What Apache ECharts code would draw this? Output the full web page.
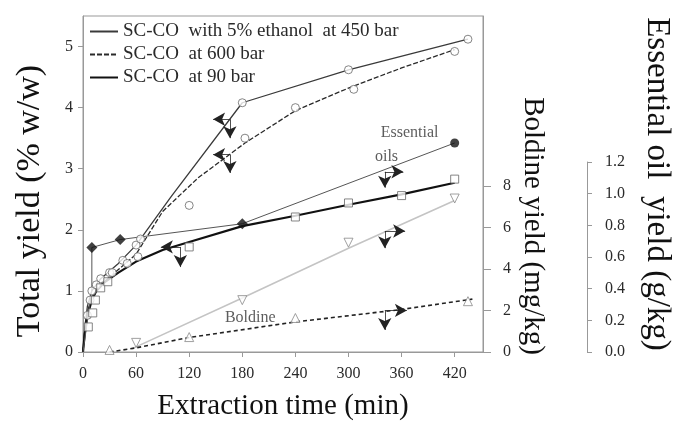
<!DOCTYPE html>
<html>
<head>
<meta charset="utf-8">
<script src="https://cdn.jsdelivr.net/npm/echarts@6/dist/echarts.min.js"></script>
<style>html,body{margin:0;padding:0;background:#fff}#c{width:675px;height:423px}</style>
</head>
<body>
<div id="c"></div>
<script>
// ---- tick labels ----
const timeTicks = [0, 60, 120, 180, 240, 300, 360, 420];
const totalTicks = [0, 1, 2, 3, 4, 5];
const boldineTicks = [0, 2, 4, 6, 8];

// ---- legend names ----
const nameEthanol = 'SC-CO  with 5% ethanol  at 450 bar';
const name600 = 'SC-CO  at 600 bar';
const name90 = 'SC-CO  at 90 bar';

// ---- total yield (% w/w): fitted curves [time, yield] ----
const ethanolCurve = [[0,0],[2,0.4],[5,0.75],[10,1.0],[20,1.2],[40,1.45],[60,1.75],[100,2.55],[180,4.08],[300,4.62],[435,5.12]];
const bar600Curve = [[0,0],[2,0.35],[5,0.65],[10,0.9],[20,1.1],[40,1.35],[60,1.6],[90,2.3],[130,2.85],[183,3.42],[240,3.95],[300,4.32],[360,4.65],[420,4.95]];
const bar90Curve = [[0,0],[2,0.3],[5,0.6],[10,0.85],[15,1.0],[25,1.15],[40,1.3],[60,1.48],[90,1.67],[120,1.8],[180,2.06],[240,2.23],[300,2.41],[360,2.58],[420,2.77]];

// ---- total yield experimental points ----
const ethanolPts = [[5,0.6],[10,1.0],[20,1.2],[30,1.3],[45,1.5],[60,1.75],[65,1.85],[180,4.08],[300,4.62],[435,5.12]];
const bar600Pts = [[8,0.85],[15,1.1],[33,1.3],[50,1.45],[62,1.56],[120,2.4],[183,3.5],[240,4.0],[306,4.3],[420,4.92]];
const bar90Pts = [[6,0.41],[11,0.64],[14,0.85],[20,1.05],[28,1.15],[120,1.72],[240,2.21],[300,2.44],[360,2.56],[420,2.83]];

// ---- essential oil yield (g/kg) ----
const oilCurve = [[0,0],[10,0.4],[10,0.66],[42,0.71],[180,0.81],[420,1.32]];
const oilPts = [[10,0.66],[42,0.71],[180,0.81]];
const oilEndPts = [[420,1.32]];

// ---- boldine yield (mg/kg) ----
const boldineLightCurve = [[55,0.15],[180,2.6],[300,5.0],[420,7.3]];
const boldineLightPts = [[60,0.44],[180,2.5],[300,5.27],[420,7.4]];
const boldineDashCurve = [[30,0],[60,0.2],[120,0.7],[240,1.45],[360,2.05],[440,2.55]];
const boldineDashPts = [[30,0.1],[120,0.72],[240,1.64],[435,2.45]];

// ---- annotations (in time / total-yield units) ----
const pointerLines = [
  [[166,3.81],[147,3.81]], [[166,3.81],[166,3.50]],
  [[166,3.23],[147,3.23]], [[166,3.23],[166,2.93]],
  [[110,1.72],[88,1.72]],  [[110,1.72],[110,1.39]],
  [[341,2.95],[362,2.95]], [[341,2.95],[341,2.69]],
  [[341,1.98],[364,1.98]], [[341,1.98],[341,1.70]],
  [[341,0.68],[366,0.68]], [[341,0.68],[341,0.36]]
];
const textNotes = [
  {name:'Essential', value:[369,3.58]},
  {name:'oils', value:[343,3.2]},
  {name:'Boldine', value:[189,0.56]}
];

const FONT = 'Liberation Serif';
const AX = '#999';
const TXT = '#2a2a2a';

const chart = echarts.init(document.getElementById('c'), null, {renderer:'canvas'});

const hiddenX = (g) => ({type:'value', gridIndex:g, min:0, max:1, show:false});

const option = {
  animation: false,
  textStyle: {fontFamily: FONT},
  legend: {
    orient: 'vertical', left: 84, top: 17, itemGap: 4,
    itemWidth: 28, itemHeight: 14,
    data: [nameEthanol, name600, name90],
    itemStyle: {color: 'rgba(0,0,0,0)', borderWidth: 0, opacity: 0},
    textStyle: {fontFamily: FONT, fontSize: 19, color: TXT}
  },
  grid: [
    {left: 83, right: 192, top: 16, bottom: 71, show: true, borderColor: AX, borderWidth: 1, outerBoundsMode: 'none', containLabel: false},
    {left: 587, width: 1, top: 162, bottom: 71, outerBoundsMode: 'none', containLabel: false},
    {left: 83, right: 192, top: 100, bottom: 71, outerBoundsMode: 'none', containLabel: false},
    {left: 83, right: 192, top: 50, bottom: 71, outerBoundsMode: 'none', containLabel: false}
  ],
  xAxis: [
    {type:'value', gridIndex:0, min:0, max:452,
     name:'Extraction time (min)', nameLocation:'middle', nameGap:40,
     nameTextStyle:{fontFamily:FONT, fontSize:29, color:'#111'},
     axisLine:{lineStyle:{color:AX}},
     axisTick:{length:5, lineStyle:{color:AX}, customValues: timeTicks},
     axisLabel:{fontFamily:FONT, fontSize:16, color:TXT, margin:14, customValues: timeTicks},
     splitLine:{show:false}},
    hiddenX(1), hiddenX(2), hiddenX(3)
  ],
  yAxis: [
    {type:'value', gridIndex:0, min:0, max:5.5, position:'left',
     axisLine:{show:true, lineStyle:{color:AX}},
     axisTick:{show:true, length:5, lineStyle:{color:AX}, customValues: totalTicks},
     axisLabel:{fontFamily:FONT, fontSize:16, color:TXT, margin:10, customValues: totalTicks},
     splitLine:{show:false}},
    {type:'value', gridIndex:0, min:0, max:16.2, position:'right',
     axisLine:{show:true, lineStyle:{color:AX}},
     axisTick:{show:true, length:8, lineStyle:{color:AX}, customValues: boldineTicks},
     axisLabel:{fontFamily:FONT, fontSize:16, color:TXT, margin:20, customValues: boldineTicks},
     splitLine:{show:false}},
    {type:'value', gridIndex:0, min:0, max:2.122, position:'right', offset:105,
     name:'Essential oil  yield (g/kg)', nameLocation:'middle', nameRotate:-90, nameGap:52,
     nameTextStyle:{fontFamily:FONT, fontSize:33, color:'#111'},
     axisLine:{show:false}, axisTick:{show:false}, axisLabel:{show:false}, splitLine:{show:false}},
    {type:'value', gridIndex:1, min:0, max:1.2, interval:0.2, position:'right',
     axisLine:{show:true, lineStyle:{color:AX}},
     axisTick:{show:true, length:5, lineStyle:{color:AX}},
     axisLabel:{fontFamily:FONT, fontSize:16, color:TXT, margin:17, formatter:(v)=>v.toFixed(1)},
     splitLine:{show:false}},
    {type:'value', gridIndex:2, min:0, max:1, position:'right',
     name:'Boldine yield (mg/kg)', nameLocation:'middle', nameRotate:-90, nameGap:35,
     nameTextStyle:{fontFamily:FONT, fontSize:29, color:'#111'},
     axisLine:{show:false}, axisTick:{show:false}, axisLabel:{show:false}, splitLine:{show:false}},
    {type:'value', gridIndex:3, min:0, max:1, position:'left',
     name:'Total yield (% w/w)', nameLocation:'middle', nameRotate:90, nameGap:36,
     nameTextStyle:{fontFamily:FONT, fontSize:34, color:'#111'},
     axisLine:{show:false}, axisTick:{show:false}, axisLabel:{show:false}, splitLine:{show:false}}
  ],
  series: [
    {name:nameEthanol, type:'line', xAxisIndex:0, yAxisIndex:0, data:ethanolCurve, symbol:'none',
     itemStyle:{color:'#3a3a3a'}, lineStyle:{color:'#3a3a3a', width:1.3}, z:3},
    {name:name600, type:'line', xAxisIndex:0, yAxisIndex:0, data:bar600Curve, symbol:'none',
     itemStyle:{color:'#2a2a2a'}, lineStyle:{color:'#2a2a2a', width:1.3, type:[5,2]}, z:3},
    {name:name90, type:'line', xAxisIndex:0, yAxisIndex:0, data:bar90Curve, symbol:'none',
     itemStyle:{color:'#111'}, lineStyle:{color:'#111', width:2.2}, z:3},
    {name:'oil', type:'line', xAxisIndex:0, yAxisIndex:2, data:oilCurve, symbol:'none',
     lineStyle:{color:'#555', width:1}, z:3},
    {name:'boldineLight', type:'line', xAxisIndex:0, yAxisIndex:1, data:boldineLightCurve, symbol:'none',
     lineStyle:{color:'#c4c4c4', width:1.6}, z:2},
    {name:'boldineDash', type:'line', xAxisIndex:0, yAxisIndex:1, data:boldineDashCurve, symbol:'none',
     lineStyle:{color:'#222', width:1.6, type:[4,3]}, z:3},

    {name:'ethanolPts', type:'scatter', xAxisIndex:0, yAxisIndex:0, data:ethanolPts, symbol:'circle', symbolSize:8,
     itemStyle:{color:'#fff', borderColor:'#666', borderWidth:1}, z:4},
    {name:'bar600Pts', type:'scatter', xAxisIndex:0, yAxisIndex:0, data:bar600Pts, symbol:'circle', symbolSize:8,
     itemStyle:{color:'#fff', borderColor:'#666', borderWidth:1}, z:4},
    {name:'bar90Pts', type:'scatter', xAxisIndex:0, yAxisIndex:0, data:bar90Pts, symbol:'rect', symbolSize:8,
     itemStyle:{color:'#fff', borderColor:'#666', borderWidth:1}, z:4},
    {name:'oilPts', type:'scatter', xAxisIndex:0, yAxisIndex:2, data:oilPts, symbol:'diamond', symbolSize:11,
     itemStyle:{color:'#111'}, z:5},
    {name:'oilEndPts', type:'scatter', xAxisIndex:0, yAxisIndex:2, data:oilEndPts, symbol:'circle', symbolSize:9,
     itemStyle:{color:'#111'}, z:5},
    {name:'boldineLightPts', type:'scatter', xAxisIndex:0, yAxisIndex:1, data:boldineLightPts, symbol:'triangle', symbolRotate:180, symbolSize:9,
     itemStyle:{color:'#fff', borderColor:'#888', borderWidth:1}, z:4},
    {name:'boldineDashPts', type:'scatter', xAxisIndex:0, yAxisIndex:1, data:boldineDashPts, symbol:'triangle', symbolSize:9,
     itemStyle:{color:'#fff', borderColor:'#888', borderWidth:1}, z:4},

    {name:'pointers', type:'line', xAxisIndex:0, yAxisIndex:0, data:[], z:6,
     markLine:{silent:true, animation:false, symbol:['none','arrow'], symbolSize:[10,12],
       label:{show:false}, lineStyle:{color:'#222', width:0.8, type:'solid'},
       data: pointerLines.map(p => [{coord:p[0]},{coord:p[1]}])}},
    {name:'notes', type:'scatter', xAxisIndex:0, yAxisIndex:0, data:textNotes, symbolSize:0, z:6,
     label:{show:true, position:'inside', formatter:(p)=>p.name, fontFamily:FONT, fontSize:16, color:'#333'}}
  ]
};
chart.setOption(option);
</script>
</body>
</html>
